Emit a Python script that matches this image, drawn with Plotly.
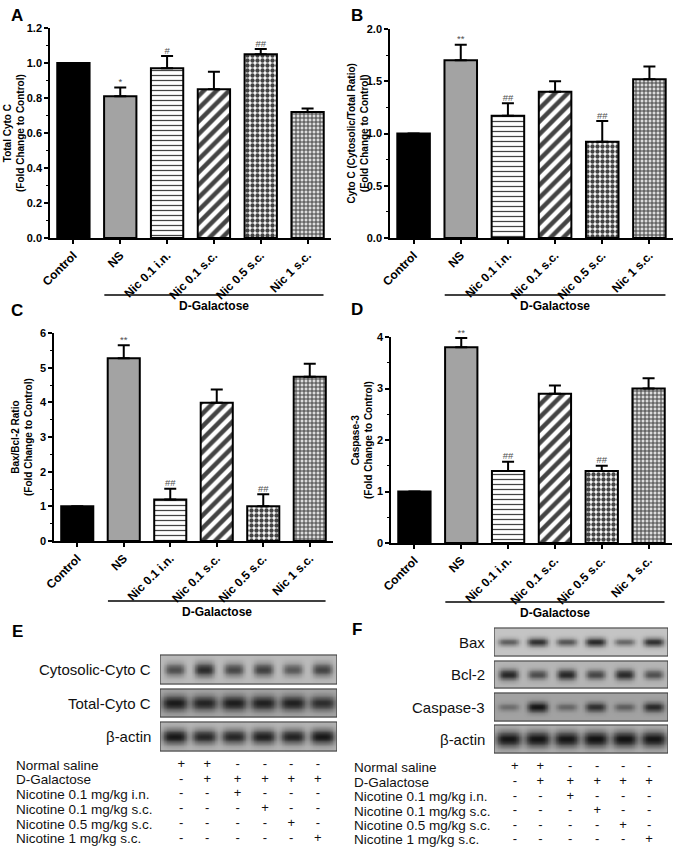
import numpy as np
import plotly.graph_objects as go

# ---------------- data ----------------
categories = ["Control", "NS", "Nic 0.1 i.n.", "Nic 0.1 s.c.", "Nic 0.5 s.c.", "Nic 1 s.c."]

a_values = [1.00, 0.81, 0.97, 0.85, 1.05, 0.72]
a_errors = [0.00, 0.05, 0.07, 0.10, 0.03, 0.02]
a_marks = ["", "*", "#", "", "##", ""]

b_values = [1.00, 1.70, 1.17, 1.40, 0.92, 1.52]
b_errors = [0.00, 0.15, 0.12, 0.10, 0.20, 0.12]
b_marks = ["", "**", "##", "", "##", ""]

c_values = [1.00, 5.27, 1.20, 3.99, 1.00, 4.74]
c_errors = [0.00, 0.38, 0.31, 0.38, 0.35, 0.37]
c_marks = ["", "**", "##", "", "##", ""]

d_values = [1.00, 3.80, 1.40, 2.90, 1.40, 3.00]
d_errors = [0.00, 0.18, 0.18, 0.16, 0.10, 0.20]
d_marks = ["", "**", "##", "", "##", ""]

group_label = "D-Galactose"

# western blot band intensities (relative darkness, 6 lanes)
e_blot_labels = ["Cytosolic-Cyto C", "Total-Cyto C", "β-actin"]
e_cyto = [0.62, 0.82, 0.66, 0.70, 0.56, 0.68]
e_total = [0.90, 0.84, 0.88, 0.86, 0.86, 0.78]
e_actin = [0.93, 0.84, 0.84, 0.88, 0.86, 0.93]

f_blot_labels = ["Bax", "Bcl-2", "Caspase-3", "β-actin"]
f_bax = [0.55, 0.80, 0.60, 0.84, 0.50, 0.80]
f_bcl2 = [0.84, 0.62, 0.84, 0.66, 0.82, 0.60]
f_casp3 = [0.35, 0.93, 0.40, 0.76, 0.45, 0.80]
f_actin = [0.93, 0.94, 0.93, 0.95, 0.95, 0.93]

table_rows = ["Normal saline", "D-Galactose", "Nicotine 0.1 mg/kg i.n.",
              "Nicotine 0.1 mg/kg s.c.", "Nicotine 0.5 mg/kg s.c.", "Nicotine 1 mg/kg s.c."]
table_signs = [
    ["+", "+", "-", "-", "-", "-"],
    ["-", "+", "+", "+", "+", "+"],
    ["-", "-", "+", "-", "-", "-"],
    ["-", "-", "-", "+", "-", "-"],
    ["-", "-", "-", "-", "+", "-"],
    ["-", "-", "-", "-", "-", "+"],
]

# ---------------- styles ----------------
W, H = 680, 850
FONT = "Liberation Sans, Arial, sans-serif"
bar_colors = ["#000000", "#a3a3a3", "#ffffff", "#ffffff", "#ffffff", "#dcdcdc"]
pat_shapes = ["", "", "-", "/", ".", "+"]
pat_fg = ["#000000", "#000000", "#000000", "#000000", "#000000", "#5e5e5e"]
pat_bg = ["#000000", "#a3a3a3", "#ffffff", "#ffffff", "#ffffff", "#dedede"]
pat_size = [8, 8, 5, 9, 5, 4]
pat_sol = [0.3, 0.3, 0.25, 0.5, 0.6, 0.45]


def px(x):
    return x / W


def py(y):
    return 1 - y / H


fig = go.Figure()
annotations = []
shapes = []
layout_axes = {}

panels = [
    (a_values, a_errors, a_marks, "Total Cyto C<br>(Fold Change to Control)", [0, 1.2], 0.2, ".1f",
     (50, 331), (28, 238), 14, "A", (17, 15), 295),
    (b_values, b_errors, b_marks, "Cyto C (Cytosolic/Total Ratio)<br>(Fold Change to Control)", [0, 2.0], 0.5, ".1f",
     (390, 673), (29, 238), 357, "B", (357, 15), 295),
    (c_values, c_errors, c_marks, "Bax/Bcl-2 Ratio<br>(Fold Change to Control)", [0, 6], 1, "d",
     (54, 333), (333, 541), 22, "C", (17, 310), 601),
    (d_values, d_errors, d_marks, "Caspase-3<br>(Fold Change to Control)", [0, 4], 1, "d",
     (391, 672), (337, 543), 362, "D", (357, 309), 602),
]

for i, (vals, errs, marks, ytitle, yr, dt, fmt, xd, yd, tx, letter, lpos, gal_y) in enumerate(panels, start=1):
    xa = "x" if i == 1 else f"x{i}"
    ya = "y" if i == 1 else f"y{i}"
    fig.add_trace(go.Bar(
        x=categories, y=vals, xaxis=xa, yaxis=ya,
        marker=dict(color=bar_colors, line=dict(color="black", width=2),
                    pattern=dict(shape=pat_shapes, fgcolor=pat_fg, bgcolor=pat_bg,
                                 size=pat_size, solidity=pat_sol, fillmode="overlay",
                                 fgopacity=1)),
        error_y=dict(type="data", symmetric=False, array=errs, arrayminus=[0] * 6,
                     color="black", thickness=2, width=6),
        showlegend=False, hoverinfo="skip",
    ))
    tops = [v + e for v, e in zip(vals, errs)]
    fig.add_trace(go.Scatter(
        x=categories, y=tops, xaxis=xa, yaxis=ya, mode="text", text=marks,
        textposition="top center", textfont=dict(family=FONT, size=9.5, color="#505050"),
        cliponaxis=False, showlegend=False, hoverinfo="skip",
    ))
    layout_axes["xaxis" if i == 1 else f"xaxis{i}"] = dict(
        domain=[px(xd[0]), px(xd[1])], anchor=ya, type="category", automargin=False,
        range=[-0.5, 5.5], showline=True, linecolor="black", linewidth=1.5,
        ticks="outside", ticklen=4, tickwidth=1.5, tickcolor="black", tickangle=-45,
        tickfont=dict(family=FONT, size=12, color="black", weight="bold"),
        showgrid=False, zeroline=False, fixedrange=True,
    )
    layout_axes["yaxis" if i == 1 else f"yaxis{i}"] = dict(
        domain=[py(yd[1]), py(yd[0])], anchor=xa, range=yr, dtick=dt, tick0=0, automargin=False,
        tickformat=fmt, showline=True, linecolor="black", linewidth=1.5,
        ticks="outside", ticklen=4, tickwidth=1.5, tickcolor="black",
        minor=dict(ticks="outside", ticklen=2, tickwidth=1, dtick=dt / 2, tickcolor="black"),
        tickfont=dict(family=FONT, size=11, color="black", weight="bold"),
        showgrid=False, zeroline=False, fixedrange=True,
    )
    annotations.append(dict(
        x=px(tx), y=py((yd[0] + yd[1]) / 2), xref="paper", yref="paper",
        xanchor="center", yanchor="middle",
        text=ytitle, textangle=-90, showarrow=False, align="center",
        font=dict(family=FONT, size=10, color="black", weight="bold"),
    ))
    annotations.append(dict(
        x=px(lpos[0]), y=py(lpos[1]), xref="paper", yref="paper", text=letter,
        xanchor="center", yanchor="middle",
        showarrow=False, font=dict(family=FONT, size=17, color="black", weight="bold"),
    ))
    shapes.append(dict(type="line", xref=xa, yref="paper", x0=0.66, x1=5.34,
                       y0=py(gal_y), y1=py(gal_y), line=dict(color="black", width=1.5)))
    annotations.append(dict(
        x=3.0, y=py(gal_y + 11), xref=xa, yref="paper", text=group_label,
        xanchor="center", yanchor="middle",
        showarrow=False, font=dict(family=FONT, size=12, color="black", weight="bold"),
    ))

# ---------------- western blots ----------------
lanes = np.arange(1, 7)
table_cols = [1.22, 2.10, 3.13, 4.06, 4.95, 5.85]


def blot_strip(xa, ya, intens, top, bot, bg, half_w, rel_h):
    xs = np.linspace(0.5, 6.5, 241)
    ys = np.linspace(top, bot, 36)
    yc = (top + bot) / 2
    hh = (bot - top) * rel_h
    X, Y = np.meshgrid(xs, ys)
    band = np.zeros_like(X)
    for lane, it in zip(lanes, intens):
        band += it * np.exp(-(np.abs(X - lane) / half_w) ** 4) * \
            np.exp(-((Y - yc) / (hh * (0.6 + 0.6 * it))) ** 2)
    band = np.clip(band, 0, 1)
    z = bg + (1 - bg) * band
    fig.add_trace(go.Heatmap(
        x=xs, y=ys, z=z, xaxis=xa, yaxis=ya, zmin=0, zmax=1, zsmooth="best",
        colorscale=[[0, "#ffffff"], [1, "#0a0a0a"]], showscale=False, hoverinfo="skip",
    ))
    shapes.append(dict(type="rect", xref=xa, yref=ya, x0=0.5, x1=6.5, y0=top, y1=bot,
                       line=dict(color="#3c3c3c", width=1.2), fillcolor="rgba(0,0,0,0)"))


def blot_panel(n, xd, ytop, strips, label_x, table_x, table_ys, letter, lpos):
    xa, ya = f"x{n}", f"y{n}"
    layout_axes[f"xaxis{n}"] = dict(domain=[px(xd[0]), px(xd[1])], range=[0.5, 6.5],
                                    anchor=ya, visible=False, fixedrange=True, automargin=False)
    layout_axes[f"yaxis{n}"] = dict(domain=[0, py(ytop)], range=[H, ytop],
                                    anchor=xa, visible=False, fixedrange=True, automargin=False)
    for lab, intens, top, bot, bg, hw, rh in strips:
        blot_strip(xa, ya, intens, top, bot, bg, hw, rh)
        annotations.append(dict(
            x=px(label_x), y=py((top + bot) / 2), xref="paper", yref="paper", text=lab,
            xanchor="right", yanchor="middle",
            showarrow=False, font=dict(family=FONT, size=15, color="#111111"),
        ))
    xs, ys, ts = [], [], []
    for r, (row, signs, yy) in enumerate(zip(table_rows, table_signs, table_ys)):
        annotations.append(dict(
            x=px(table_x), y=py(yy), xref="paper", yref="paper", text=row,
            xanchor="left", yanchor="middle",
            showarrow=False, font=dict(family=FONT, size=13.5, color="#111111"),
        ))
        for c, s in enumerate(signs):
            xs.append(table_cols[c])
            ys.append(yy)
            ts.append(s)
    fig.add_trace(go.Scatter(
        x=xs, y=ys, xaxis=xa, yaxis=ya, mode="text", text=ts,
        textfont=dict(family=FONT, size=13, color="#111111"),
        cliponaxis=False, showlegend=False, hoverinfo="skip",
    ))
    annotations.append(dict(
        x=px(lpos[0]), y=py(lpos[1]), xref="paper", yref="paper", text=letter,
        xanchor="center", yanchor="middle",
        showarrow=False, font=dict(family=FONT, size=17, color="black", weight="bold"),
    ))


blot_panel(
    5, (160, 337), 640,
    [(e_blot_labels[0], e_cyto, 655, 684, 0.28, 0.34, 0.22),
     (e_blot_labels[1], e_total, 689, 717, 0.36, 0.44, 0.24),
     (e_blot_labels[2], e_actin, 722, 751, 0.30, 0.42, 0.22)],
    153, 14, [765, 779.5, 794, 809, 824, 838.5], "E", (17, 631))

blot_panel(
    6, (494, 668), 620,
    [(f_blot_labels[0], f_bax, 628, 656, 0.24, 0.36, 0.14),
     (f_blot_labels[1], f_bcl2, 661, 688, 0.30, 0.34, 0.18),
     (f_blot_labels[2], f_casp3, 693, 721, 0.38, 0.36, 0.16),
     (f_blot_labels[3], f_actin, 725, 753, 0.32, 0.44, 0.24)],
    487, 352, [767, 782, 796.5, 811, 825.5, 839.5], "F", (357, 629))

fig.update_layout(
    template="none",
    width=W, height=H, margin=dict(l=0, r=0, t=0, b=0, autoexpand=False),
    paper_bgcolor="white", plot_bgcolor="white", showlegend=False,
    bargap=0.31, annotations=annotations, shapes=shapes,
    font=dict(family=FONT, color="black"),
    **layout_axes,
)

# remove the default page margin so the figure fills the window exactly
fig.write_html("out.html", config={"displayModeBar": False},
               post_script="document.body.style.margin='0px';")
